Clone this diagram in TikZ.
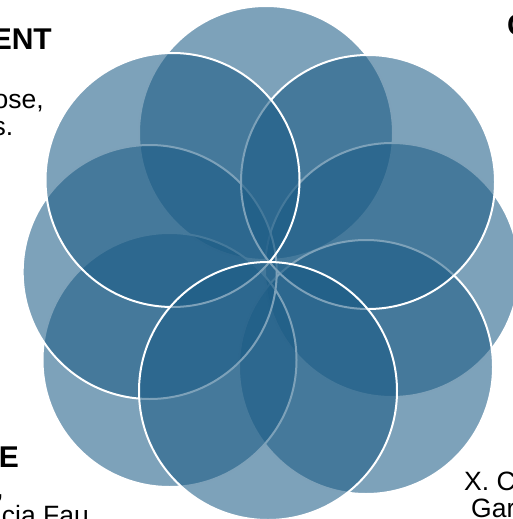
\documentclass[tikz,border=0pt]{standalone}
\usepackage{fontspec}
\setmainfont{Liberation Sans}
\definecolor{petalblue}{RGB}{27,91,133}
\begin{document}
\begin{tikzpicture}[x=1pt,y=-1pt,
  petal/.style={circle, inner sep=0pt, outer sep=0pt, minimum size=254pt,
    fill=petalblue, fill opacity=0.57, draw=white, draw opacity=1, line width=2pt},
  head/.style={font=\bfseries\fontsize{30}{34}\selectfont, inner sep=0pt, text=black},
  body/.style={font=\fontsize{26.5}{30}\selectfont, inner sep=0pt, text=black}]
\useasboundingbox (0,0) rectangle (513,519);
\clip (0,0) rectangle (513,519);
% circles, back to front
\node[petal] (ctop) at (266,133) {};
\node[petal] (cr)   at (392,270) {};
\node[petal] (clr)  at (366,367) {};
\node[petal] (cll)  at (169.5,360) {};
\node[petal] (cl)   at (149.7,272) {};
\node[petal] (cur)  at (368,182) {};
\node[petal] (cul)  at (172.5,180) {};
\node[petal, minimum size=258pt] (cb) at (268,391) {};
% texts
\node[head, anchor=base east] (h1) at (52,50) {ENT};
\node[body, anchor=base east] (b1) at (44,108) {ose,};
\node[body, anchor=base east] (b2) at (13.5,135) {s.};
\node[head, anchor=base west] (h2) at (507,36) {C};
\node[head, anchor=base east] (h3) at (19,467) {E};
\node[body, anchor=base east] (b3) at (4,497) {,};
\node[body, anchor=base east] (b4) at (89,524) {cia Fau};
\node[body, anchor=base west] (b5) at (464,490) {X. C};
\node[body, anchor=base west] (b6) at (471,517) {Gar};
\end{tikzpicture}
\end{document}
